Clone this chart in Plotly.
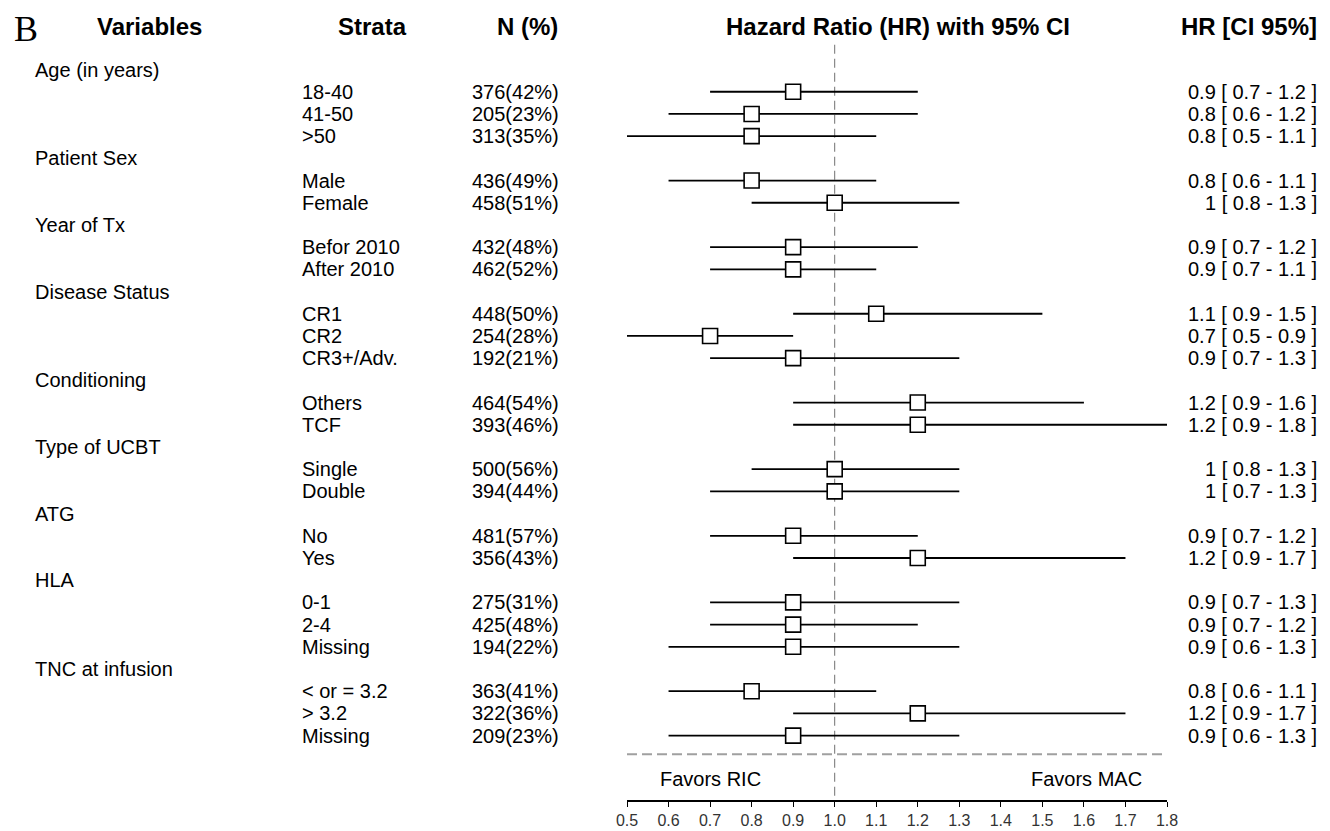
import plotly.graph_objects as go

# ---------------- data ----------------
groups = ["Age (in years)", "Patient Sex", "Year of Tx", "Disease Status", "Conditioning",
          "Type of UCBT", "ATG", "HLA", "TNC at infusion"]
strata = [
    ["18-40", "41-50", ">50"],
    ["Male", "Female"],
    ["Befor 2010", "After 2010"],
    ["CR1", "CR2", "CR3+/Adv."],
    ["Others", "TCF"],
    ["Single", "Double"],
    ["No", "Yes"],
    ["0-1", "2-4", "Missing"],
    ["< or = 3.2", "> 3.2", "Missing"],
]
n_pct = [
    ["376(42%)", "205(23%)", "313(35%)"],
    ["436(49%)", "458(51%)"],
    ["432(48%)", "462(52%)"],
    ["448(50%)", "254(28%)", "192(21%)"],
    ["464(54%)", "393(46%)"],
    ["500(56%)", "394(44%)"],
    ["481(57%)", "356(43%)"],
    ["275(31%)", "425(48%)", "194(22%)"],
    ["363(41%)", "322(36%)", "209(23%)"],
]
hr = [[0.9, 0.8, 0.8], [0.8, 1.0], [0.9, 0.9], [1.1, 0.7, 0.9], [1.2, 1.2],
      [1.0, 1.0], [0.9, 1.2], [0.9, 0.9, 0.9], [0.8, 1.2, 0.9]]
lo = [[0.7, 0.6, 0.5], [0.6, 0.8], [0.7, 0.7], [0.9, 0.5, 0.7], [0.9, 0.9],
      [0.8, 0.7], [0.7, 0.9], [0.7, 0.7, 0.6], [0.6, 0.9, 0.6]]
hi = [[1.2, 1.2, 1.1], [1.1, 1.3], [1.2, 1.1], [1.5, 0.9, 1.3], [1.6, 1.8],
      [1.3, 1.3], [1.2, 1.7], [1.3, 1.2, 1.3], [1.1, 1.7, 1.3]]
tick_vals = [0.5, 0.6, 0.7, 0.8, 0.9, 1.0, 1.1, 1.2, 1.3, 1.4, 1.5, 1.6, 1.7, 1.8]
tick_labels = ["0.5", "0.6", "0.7", "0.8", "0.9", "1.0", "1.1", "1.2", "1.3",
               "1.4", "1.5", "1.6", "1.7", "1.8"]

# ---------------- layout helpers ----------------
OFF = 8                      # default page body margin of the browser
W, H = 1330, 831
PL, PR = 627, 1167           # plot area left/right pixels (page coords)
PT, PB = 10, 806             # plot area top/bottom pixels (page coords)
ROW0_PX, ROW_H = 70, 22.37   # pixel of row 1 and row spacing


def px_to_row(p):
    return 1 + (p - ROW0_PX) / ROW_H


def px_to_paper(p):
    return (p - PL) / (PR - PL)


FONT = "Liberation Sans, Arial, sans-serif"
RS = 20   # row text size
HS = 24   # header text size

fig = go.Figure()
ann = []


def txt(xpx, row, text, anchor="left", size=RS, family=FONT):
    ann.append(dict(x=px_to_paper(xpx), y=row, xref="paper", yref="y", text=text,
                    showarrow=False, xanchor=anchor, yanchor="middle",
                    font=dict(family=family, size=size, color="black")))


row = 1
ys, xs, xlo, xhi = [], [], [], []
for g, grp in enumerate(groups):
    txt(33, row, grp)
    row += 1
    for i, s in enumerate(strata[g]):
        txt(300, row, s)
        txt(470, row, n_pct[g][i])
        txt(1319, row, f"{hr[g][i]:g} [ {lo[g][i]:g} - {hi[g][i]:g} ]", anchor="right")
        ys.append(row)
        xs.append(hr[g][i])
        xlo.append(lo[g][i])
        xhi.append(hi[g][i])
        row += 1

y_top = px_to_row(PT)
y_bot = px_to_row(PB)

# reference vertical dashed line at HR = 1
fig.add_trace(go.Scatter(x=[1.0, 1.0], y=[px_to_row(45), y_bot], mode="lines",
                         line=dict(color="#707070", width=1, dash="9px,5px"),
                         hoverinfo="skip", showlegend=False))
# separator dashed line
sep_row = px_to_row(760)
fig.add_trace(go.Scatter(x=[0.5, 1.8], y=[sep_row, sep_row], mode="lines",
                         line=dict(color="#a0a0a0", width=2, dash="10px,5px"),
                         hoverinfo="skip", showlegend=False))

# CI lines
cx, cy = [], []
for y, a, b in zip(ys, xlo, xhi):
    cx += [a, b, None]
    cy += [y, y, None]
fig.add_trace(go.Scatter(x=cx, y=cy, mode="lines", line=dict(color="black", width=1.8),
                         hoverinfo="skip", showlegend=False))
# HR squares
fig.add_trace(go.Scatter(x=xs, y=ys, mode="markers",
                         marker=dict(symbol="square", size=15, color="white",
                                     line=dict(color="black", width=1.6)),
                         showlegend=False))

# headers
hdr_row = px_to_row(27)
txt(12, px_to_row(29), "B", size=36, family="Liberation Serif, Times New Roman, serif")
txt(149, hdr_row, "<b>Variables</b>", anchor="center", size=HS)
txt(372, hdr_row, "<b>Strata</b>", anchor="center", size=HS)
txt(527, hdr_row, "<b>N (%)</b>", anchor="center", size=HS)
txt(898, hdr_row, "<b>Hazard Ratio (HR) with 95% CI</b>", anchor="center", size=HS)
txt(1319, hdr_row, "<b>HR [CI 95%]</b>", anchor="right", size=HS)

fav_row = px_to_row(785)
ann.append(dict(x=0.702, y=fav_row, xref="x", yref="y", text="Favors RIC", showarrow=False,
                xanchor="center", yanchor="middle", font=dict(family=FONT, size=RS, color="black")))
ann.append(dict(x=1.607, y=fav_row, xref="x", yref="y", text="Favors MAC", showarrow=False,
                xanchor="center", yanchor="middle", font=dict(family=FONT, size=RS, color="black")))

fig.update_layout(
    width=W - OFF, height=H - OFF,
    margin=dict(l=PL - OFF, r=(W - OFF) - (PR - OFF), t=PT - OFF, b=(H - OFF) - (PB - OFF), pad=0),
    paper_bgcolor="white", plot_bgcolor="white",
    annotations=ann,
    xaxis=dict(range=[0.5, 1.8], tickvals=tick_vals, ticktext=tick_labels,
               showline=True, linecolor="black", linewidth=1.5, ticks="outside",
               ticklen=5, tickwidth=1.2, tickcolor="black", showgrid=False, zeroline=False,
               tickfont=dict(family=FONT, size=16, color="#333333")),
    yaxis=dict(range=[y_bot, y_top], visible=False, showgrid=False, zeroline=False),
    showlegend=False,
)

fig.write_html("out.html")
